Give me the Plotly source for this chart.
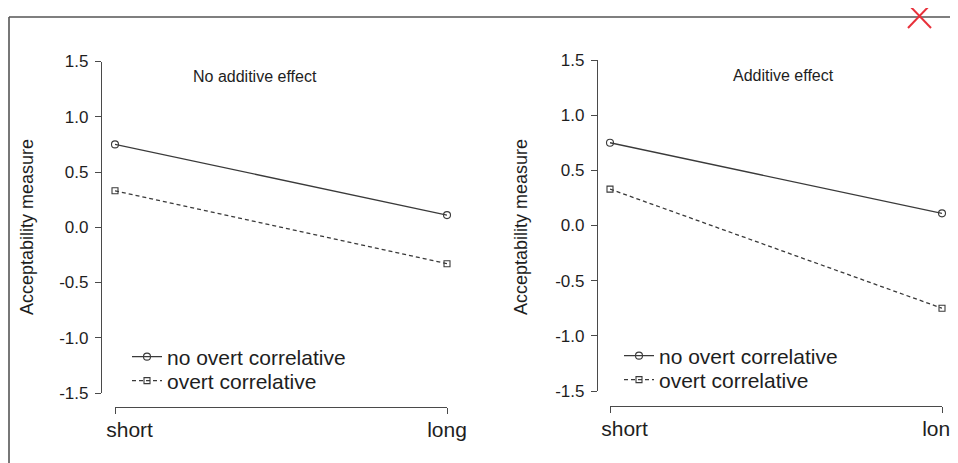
import plotly.graph_objects as go

# the page body has an 8px margin, so the figure is sized to fit the 958x463 window
OFF = 8
W, H = 958 - OFF, 463 - OFF

conditions = ["short", "long"]
cond_x = [0, 1]
series_names = ["no overt correlative", "overt correlative"]
left_no_overt = [0.75, 0.11]
left_overt = [0.33, -0.33]
right_no_overt = [0.75, 0.11]
right_overt = [0.33, -0.75]
panel_titles = ["No additive effect", "Additive effect"]
y_ticks = [-1.5, -1.0, -0.5, 0.0, 0.5, 1.0, 1.5]
y_label = "Acceptability measure"

FONT = "Liberation Sans, Arial, sans-serif"
LINE = "#3a3a3a"
AX = "#4a4a4a"
TXT = "#1e1e1e"

def px(x):
    return (x - OFF) / W

def py(y):
    return 1 - (y - OFF) / H

fig = go.Figure()

styles = [
    dict(dash="solid", symbol="circle-open", size=7),
    dict(dash="4px,3px", symbol="square-open", size=6),
]

panels = [
    dict(data=[left_no_overt, left_overt], xa="x", ya="y", legends=["legend", "legend3"]),
    dict(data=[right_no_overt, right_overt], xa="x2", ya="y2", legends=["legend2", "legend4"]),
]
for p in panels:
    for name, vals, st, lg in zip(series_names, p["data"], styles, p["legends"]):
        fig.add_trace(go.Scatter(
            x=cond_x, y=vals, name=name, mode="lines+markers",
            xaxis=p["xa"], yaxis=p["ya"], legend=lg,
            line=dict(color=LINE, width=1.3, dash=st["dash"]),
            marker=dict(symbol=st["symbol"], size=st["size"], color=LINE,
                        line=dict(width=1.1, color=LINE)),
            cliponaxis=False,
        ))

tick_text_x = ["\u00a0\u00a0\u00a0\u00a0\u00a0short", "long"]

def xaxis(dom, pos):
    return dict(domain=dom, range=[0, 1], anchor="free", position=pos,
                tickvals=cond_x, ticktext=tick_text_x, ticks="outside",
                ticklen=6, tickwidth=1.3, tickcolor=AX, showline=True,
                linecolor=AX, linewidth=1.3, showgrid=False, zeroline=False,
                automargin=False, ticklabeloverflow="allow", ticklabelstandoff=-2,
                tickfont=dict(family=FONT, size=21, color=TXT))

def yaxis(dom, pos):
    return dict(domain=dom, range=[-1.5, 1.5], anchor="free", position=pos,
                tickvals=y_ticks, ticktext=[f"{v:.1f}" for v in y_ticks],
                ticks="outside", ticklen=6, tickwidth=1.3, tickcolor=AX,
                showline=True, linecolor=AX, linewidth=1.3, showgrid=False,
                zeroline=False, ticklabelstandoff=3, automargin=False,
                ticklabeloverflow="allow",
                tickfont=dict(family=FONT, size=17, color=TXT))

def legend_at(x, y):
    return dict(x=px(x), y=py(y), xanchor="left", yanchor="middle",
                bgcolor="rgba(0,0,0,0)", borderwidth=0,
                font=dict(family=FONT, size=21, color=TXT),
                tracegroupgap=0, itemwidth=30)

def label(text, x, y, size, angle=0):
    return dict(text=text, x=px(x), y=py(y), xref="paper", yref="paper",
                xanchor="center", yanchor="middle", textangle=angle,
                showarrow=False, font=dict(family=FONT, size=size, color=TXT))

fig.update_layout(
    template="none",
    width=W, height=H,
    margin=dict(l=0, r=0, t=0, b=0, pad=0),
    paper_bgcolor="white", plot_bgcolor="white",
    font=dict(family=FONT, color=TXT),
    xaxis=xaxis([px(115), px(447)], py(407)),
    yaxis=yaxis([py(393), py(61.5)], px(101)),
    xaxis2=xaxis([px(610), px(942)], py(405.5)),
    yaxis2=yaxis([py(391), py(60)], px(597)),
    legend=legend_at(127, 357),
    legend3=legend_at(127, 381),
    legend2=legend_at(619, 356),
    legend4=legend_at(619, 380),
    annotations=[
        label(panel_titles[0], 255, 76, 16),
        label(panel_titles[1], 783, 75, 16),
        label(y_label, 27, 227, 18, -90),
        label(y_label, 521, 227, 18, -90),
    ],
    shapes=[
        dict(type="line", xref="paper", yref="paper", x0=px(9), x1=px(9), y0=py(17), y1=0,
             line=dict(color="#555", width=1.6)),
        dict(type="line", xref="paper", yref="paper", x0=px(9), x1=1, y0=py(17), y1=py(17),
             line=dict(color="#555", width=1.6)),
        dict(type="line", xref="paper", yref="paper", x0=px(908), x1=px(931), y0=py(4), y1=py(28),
             line=dict(color="#e8303a", width=2)),
        dict(type="line", xref="paper", yref="paper", x0=px(931), x1=px(908), y0=py(4), y1=py(28),
             line=dict(color="#e8303a", width=2)),
    ],
    showlegend=True,
)

fig.write_html("out.html")
